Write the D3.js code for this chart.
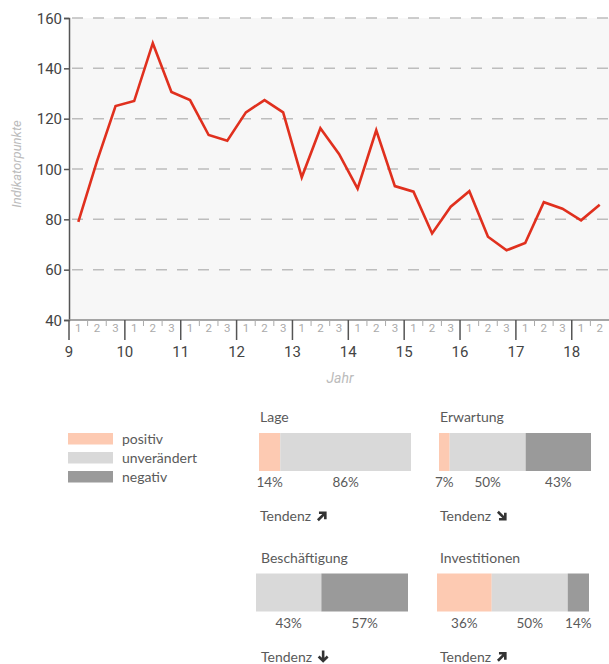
<!DOCTYPE html>
<html lang="de">
<head>
<meta charset="UTF-8">
<title>Indikator</title>
<script src="https://cdn.jsdelivr.net/npm/d3@7"></script>
<style>
  body { margin: 0; background: #fff; }
  svg { display: block; font-family: Roboto, "Open Sans", sans-serif; }
  .tick text { font-family: Roboto, sans-serif; }
  .lower text { font-family: Lato, "Open Sans", sans-serif; fill: #5a5a5a; }
</style>
</head>
<body>
<script>
// --- data ---
const years = [9, 10, 11, 12, 13, 14, 15, 16, 17, 18];
const periodLabels = ["1", "2", "3"];
const values = [79, 103, 125, 127, 150, 130.6, 127.4, 113.5, 111.2, 122.5,
                127.4, 122.5, 96.7, 116.2, 106, 92.2, 115.4, 93.2, 91, 74.4,
                85, 91.2, 73.1, 67.7, 70.6, 86.8, 84.2, 79.6, 85.8];
const yTicks = [40, 60, 80, 100, 120, 140, 160];

const legendLabels = ["positiv", "unverändert", "negativ"];
const legendColors = ["#fdcab2", "#d9d9d9", "#9a9a9a"];

const panelTitles = ["Lage", "Erwartung", "Beschäftigung", "Investitionen"];
const positiv = [14, 7, 0, 36];
const unveraendert = [86, 50, 43, 50];
const negativ = [0, 43, 57, 14];
const tendenzAngle = [45, 135, 180, 45]; // arrow direction, 0 = up

const width = 609, height = 664;
const svg = d3.select("body").append("svg")
  .attr("width", width).attr("height", height);

// --- line chart ---
const x = d3.scaleLinear().domain([9, 18 + 2 / 3]).range([69, 609]);
const y = d3.scaleLinear().domain([40, 160]).range([320, 18]);

svg.append("rect")
  .attr("x", x(9)).attr("y", y(160))
  .attr("width", x.range()[1] - x(9)).attr("height", y(40) - y(160))
  .attr("fill", "#f7f7f7");

// dashed grid
svg.append("g")
  .selectAll("line")
  .data(yTicks.filter(d => d > 40))
  .join("line")
  .attr("x1", x(9) + 3).attr("x2", width)
  .attr("y1", d => y(d)).attr("y2", d => y(d))
  .attr("stroke", "#bdbdbd").attr("stroke-width", 1.5)
  .attr("stroke-dasharray", "11 10");

// y axis
const yAxis = svg.append("g")
  .attr("transform", `translate(${x(9)},0)`)
  .call(d3.axisLeft(y).tickValues(yTicks).tickSize(5).tickPadding(2));
yAxis.select(".domain").attr("stroke", "#555").attr("stroke-width", 1.5);
yAxis.selectAll(".tick line").attr("stroke", "#555").attr("stroke-width", 1.5);
yAxis.selectAll(".tick text").attr("font-size", 15).attr("fill", "#444").attr("dy", "0.35em");

svg.append("text")
  .attr("transform", `translate(21,164) rotate(-90)`)
  .attr("text-anchor", "middle")
  .attr("font-style", "italic").attr("font-size", 13).attr("fill", "#bbb")
  .text("Indikatorpunkte");

// x axis
const xg = svg.append("g");
xg.append("line")
  .attr("x1", x(9)).attr("x2", width)
  .attr("y1", y(40)).attr("y2", y(40))
  .attr("stroke", "#888").attr("stroke-width", 1.5);

const periods = [];
years.forEach(yr => periodLabels.forEach((p, j) => {
  const t = yr + j / 3;
  if (t < x.domain()[1] - 1e-6) periods.push({ t, label: p });
}));

xg.selectAll(".minor")
  .data(periods.filter(d => d.label !== "1"))
  .join("line")
  .attr("x1", d => x(d.t)).attr("x2", d => x(d.t))
  .attr("y1", y(40)).attr("y2", y(40) + 6)
  .attr("stroke", "#aaa").attr("stroke-width", 1);

xg.selectAll(".plabel")
  .data(periods)
  .join("text")
  .attr("x", d => x(d.t + 1 / 6)).attr("y", y(40) + 12)
  .attr("text-anchor", "middle")
  .attr("font-size", 11.5).attr("fill", "#aaa")
  .text(d => d.label);

xg.selectAll(".major")
  .data(years)
  .join("line")
  .attr("x1", d => x(d)).attr("x2", d => x(d))
  .attr("y1", y(40)).attr("y2", y(40) + 20)
  .attr("stroke", "#555").attr("stroke-width", 1.5);

xg.selectAll(".ylabel")
  .data(years)
  .join("text")
  .attr("x", d => x(d)).attr("y", y(40) + 37)
  .attr("text-anchor", "middle")
  .attr("font-size", 15).attr("fill", "#444")
  .text(d => d);

svg.append("text")
  .attr("x", 340).attr("y", 383)
  .attr("text-anchor", "middle")
  .attr("font-style", "italic").attr("font-size", 14).attr("fill", "#bbb")
  .text("Jahr");

// line
const line = d3.line()
  .x((d, i) => x(9 + (i + 0.5) / 3))
  .y(d => y(d));
svg.append("path")
  .datum(values)
  .attr("d", line)
  .attr("fill", "none")
  .attr("stroke", "#e0301e").attr("stroke-width", 2.6)
  .attr("stroke-linejoin", "miter");

// --- lower part ---
const lower = svg.append("g").attr("class", "lower");

const legend = lower.selectAll(".legend")
  .data(legendLabels)
  .join("g")
  .attr("transform", (d, i) => `translate(68,${433 + i * 19})`);
legend.append("rect")
  .attr("width", 45).attr("height", 11.5)
  .attr("fill", (d, i) => legendColors[i]);
legend.append("text")
  .attr("x", 54).attr("y", 10.5)
  .attr("font-size", 14)
  .text(d => d);

const barW = d3.scaleLinear().domain([0, 100]).range([0, 152]);
const panelPos = [
  { bx: 259, tx: 260, top: 433 },
  { bx: 439, tx: 440, top: 433 },
  { bx: 256, tx: 261, top: 573.5 },
  { bx: 437, tx: 440, top: 573.5 }
];

panelTitles.forEach((title, i) => {
  const p = panelPos[i];
  const g = lower.append("g");
  g.append("text")
    .attr("x", p.tx).attr("y", p.top - 11)
    .attr("font-size", 14)
    .text(title);

  const parts = [positiv[i], unveraendert[i], negativ[i]];
  let acc = 0;
  const segs = parts.map((v, k) => {
    const s = { v, k, x0: acc };
    acc += v;
    return s;
  }).filter(s => s.v > 0);

  g.selectAll("rect")
    .data(segs)
    .join("rect")
    .attr("x", s => p.bx + barW(s.x0))
    .attr("y", p.top)
    .attr("width", s => barW(s.v))
    .attr("height", 38)
    .attr("fill", s => legendColors[s.k]);

  g.selectAll(".pct")
    .data(segs)
    .join("text")
    .attr("x", s => p.bx + barW(s.x0 + s.v / 2))
    .attr("y", p.top + 54)
    .attr("text-anchor", "middle")
    .attr("font-size", 13.5)
    .text(s => s.v + "%");

  const tt = g.append("text")
    .attr("x", p.tx).attr("y", p.top + 88)
    .attr("font-size", 14)
    .text("Tendenz");
  const tw = tt.node().getComputedTextLength();
  g.append("path")
    .attr("transform", `translate(${p.tx + tw + 11},${p.top + 83}) rotate(${tendenzAngle[i]})`)
    .attr("d", "M0,6 L0,-4.5 M-4.5,0 L0,-4.5 L4.5,0")
    .attr("fill", "none")
    .attr("stroke", "#333").attr("stroke-width", 2.6)
    .attr("stroke-linejoin", "miter").attr("stroke-linecap", "butt");
});
</script>
</body>
</html>
